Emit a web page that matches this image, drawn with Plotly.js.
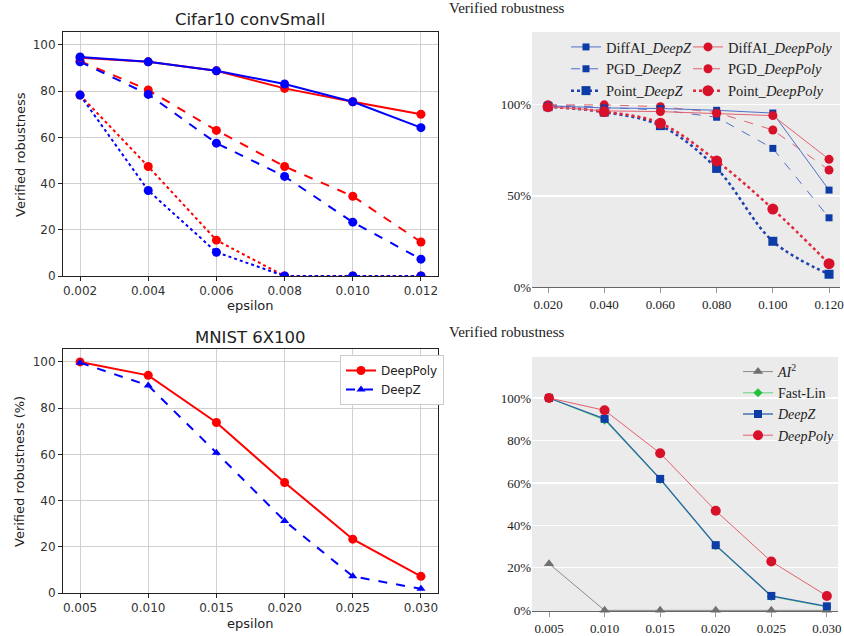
<!DOCTYPE html>
<html><head><meta charset="utf-8">
<script src="https://cdn.plot.ly/plotly-3.0.1.min.js"></script>
<style>html,body{margin:0;padding:0;background:#fff}#chart{width:844px;height:636px}</style>
</head><body><div id="chart"></div>
<script>
// ---- Top-left: Cifar10 convSmall ----
const cifarEps = [0.002, 0.004, 0.006, 0.008, 0.010, 0.012];
const cifarDiffAIPoly = [94.5, 92.7, 88.8, 81.2, 75.4, 70.0];
const cifarDiffAIZ    = [94.8, 92.7, 88.8, 83.1, 75.4, 64.2];
const cifarPGDPoly    = [93.0, 80.5, 63.0, 47.4, 34.5, 14.7];
const cifarPGDZ       = [92.7, 78.6, 57.5, 43.1, 23.3, 7.3];
const cifarPointPoly  = [78.3, 47.4, 15.5, 0, 0, 0];
const cifarPointZ     = [78.3, 37.0, 10.3, 0, 0, 0];

// ---- Top-right: DiffAI / PGD / Point ----
const trEps = [0.02, 0.04, 0.06, 0.08, 0.10, 0.12];
const trDiffAIZ    = [99.5, 98.3, 98.0, 97.0, 95.5, 53.2];
const trDiffAIPoly = [99.0, 96.7, 96.3, 95.4, 94.1, 70.1];
const trPGDZ       = [100, 98.7, 97.2, 93.2, 76.1, 38.0];
const trPGDPoly    = [100, 100, 99.0, 95.8, 86.2, 64.2];
const trPointZ     = [99.0, 96.0, 88.6, 65.1, 25.1, 7.0];
const trPointPoly  = [99.0, 96.3, 89.9, 69.2, 42.8, 12.8];
const trTicks = [0, 50, 100];
const trTickLabels = ['0%', '50%', '100%'];

// ---- Bottom-left: MNIST 6X100 ----
const mnistEps = [0.005, 0.010, 0.015, 0.020, 0.025, 0.030];
const mnistDeepPoly = [100, 94.2, 73.8, 47.8, 23.3, 7.2];
const mnistDeepZ    = [99.7, 89.8, 60.7, 31.2, 7.2, 1.8];

// ---- Bottom-right: AI2 / Fast-Lin / DeepZ / DeepPoly ----
const brEps = [0.005, 0.010, 0.015, 0.020, 0.025, 0.030];
const brAI2      = [22, 0, 0, 0, 0, 0];
const brFastLin  = [100, 89.6, 61.6, 30.4, 6.5, 1.6];
const brDeepZ    = [100, 90.2, 61.9, 30.7, 6.8, 1.9];
const brDeepPoly = [100, 94.2, 74.0, 46.9, 23.0, 6.8];
const brTicks = [0, 20, 40, 60, 80, 100];
const brTickLabels = ['0%', '20%', '40%', '60%', '80%', '100%'];

const W = 844, H = 636;
const px = v => v / W, py = v => 1 - v / H;

const MPL = 'DejaVu Sans, sans-serif';
const SERIF = 'Liberation Serif, DejaVu Serif, serif';
const RED = '#ff0000', BLUE = '#0000ff';
const DBLUE = '#0d3ca6', DRED = '#d8112a';

const traces = [];
function mpl(x, y, color, dash, sym, ax, name, leg) {
  traces.push({x: x, y: y, xaxis: 'x' + ax, yaxis: 'y' + ax, type: 'scatter', mode: 'lines+markers',
    name: name || 'series', showlegend: !!leg, legend: leg || 'legend3',
    line: {color: color, width: 2, dash: dash},
    marker: {color: color, size: sym === 'triangle-up' ? 8 : 9, symbol: sym}});
}
// top-left
mpl(cifarEps, cifarPointPoly, RED, 'dot', 'circle', '');
mpl(cifarEps, cifarPointZ, BLUE, 'dot', 'circle', '');
mpl(cifarEps, cifarPGDPoly, RED, 'dash', 'circle', '');
mpl(cifarEps, cifarPGDZ, BLUE, 'dash', 'circle', '');
mpl(cifarEps, cifarDiffAIPoly, RED, 'solid', 'circle', '');
mpl(cifarEps, cifarDiffAIZ, BLUE, 'solid', 'circle', '');
// bottom-left
mpl(mnistEps, mnistDeepPoly, RED, 'solid', 'circle', '3', 'DeepPoly', 'legend3');
mpl(mnistEps, mnistDeepZ, BLUE, 'dash', 'triangle-up', '3', 'DeepZ', 'legend3');

// top-right
function tr(y, name, lcolor, mcolor, dash, width, sym, size, leg, shape) {
  traces.push({x: trEps, y: y, xaxis: 'x2', yaxis: 'y2', type: 'scatter', mode: 'lines+markers',
    name: name, legend: leg, showlegend: true,
    line: {color: lcolor, width: width, dash: dash, shape: shape || 'linear'},
    marker: {color: mcolor, size: size, symbol: sym}});
}
tr(trPointZ, 'Point_<i>DeepZ</i>', '#1e43b0', DBLUE, 'dot', 2.5, 'square', 9, 'legend', 'spline');
tr(trPointPoly, 'Point_<i>DeepPoly</i>', '#e0283c', DRED, 'dot', 2.5, 'circle', 11, 'legend2', 'spline');
tr(trPGDZ, 'PGD_<i>DeepZ</i>', '#4f6fc8', DBLUE, 'dash', 1, 'square', 7, 'legend');
tr(trPGDPoly, 'PGD_<i>DeepPoly</i>', '#e4606e', DRED, 'dash', 1, 'circle', 9, 'legend2');
tr(trDiffAIZ, 'DiffAI_<i>DeepZ</i>', '#4f6fc8', DBLUE, 'solid', 1, 'square', 7, 'legend');
tr(trDiffAIPoly, 'DiffAI_<i>DeepPoly</i>', '#e4606e', DRED, 'solid', 1, 'circle', 9, 'legend2');

// bottom-right
function br(y, name, lcolor, mcolor, sym, size, lw) {
  traces.push({x: brEps, y: y, xaxis: 'x4', yaxis: 'y4', type: 'scatter', mode: 'lines+markers',
    name: name, legend: 'legend4', showlegend: true, cliponaxis: false,
    line: {color: lcolor, width: lw}, marker: {color: mcolor, size: size, symbol: sym}});
}
br(brAI2, '<i>AI</i><sup>2</sup>', '#8a8a8a', '#707070', 'triangle-up', 9, 1);
br(brFastLin, 'Fast-Lin', '#3ccf5a', '#22c040', 'diamond', 7, 0.8);
br(brDeepZ, '<i>DeepZ</i>', '#2a62a8', DBLUE, 'square', 8, 1.3);
br(brDeepPoly, '<i>DeepPoly</i>', '#e4606e', DRED, 'circle', 10, 1);

const mplX = (rng, dom) => ({domain: dom, range: rng, tickformat: '.3f',
  showline: true, mirror: true, linecolor: '#222', linewidth: 1, ticks: 'outside', ticklen: 4, tickcolor: '#222',
  showgrid: true, gridcolor: '#d0d0d0', gridwidth: 1, zeroline: false,
  tickfont: {family: MPL, size: 12, color: '#333'}});
const mplY = (dom) => ({domain: dom, range: [0, 105.6], tickvals: [0, 20, 40, 60, 80, 100],
  showline: true, mirror: true, linecolor: '#222', linewidth: 1, ticks: 'outside', ticklen: 4, tickcolor: '#222',
  showgrid: true, gridcolor: '#d0d0d0', gridwidth: 1, zeroline: false,
  tickfont: {family: MPL, size: 12, color: '#333'}});

const xTL = mplX([0.0015, 0.0125], [px(63), px(438)]); xTL.tickvals = cifarEps; xTL.anchor = 'y';
const yTL = mplY([py(276), py(32)]); yTL.anchor = 'x';
const xBL = mplX([0.00375, 0.03125], [px(63), px(438)]); xBL.tickvals = mnistEps; xBL.anchor = 'y3';
const yBL = mplY([py(593), py(349)]); yBL.anchor = 'x3';

const serX = (rng, dom, vals, anchor) => ({domain: dom, range: rng, tickvals: vals, tickformat: '.3f', anchor: anchor,
  showline: true, linecolor: '#666', linewidth: 1.2, ticks: 'outside', ticklen: 5, tickcolor: '#999',
  showgrid: false, zeroline: false, tickfont: {family: SERIF, size: 13, color: '#222'}});
const serY = (rng, dom, vals, labels, anchor) => ({domain: dom, range: rng, tickvals: vals, ticktext: labels, anchor: anchor,
  tickmode: 'array', showline: false, ticks: '', showgrid: true, gridcolor: '#ffffff', gridwidth: 1.2, zeroline: false,
  tickfont: {family: SERIF, size: 13, color: '#222'}});

const ann = [];
function A(text, x, y, size, fam, opts) {
  ann.push(Object.assign({text: text, x: px(x), y: py(y), xref: 'paper', yref: 'paper', showarrow: false,
    font: {family: fam, size: size, color: '#222'}, xanchor: 'center', yanchor: 'middle'}, opts || {}));
}
A('Cifar10 convSmall', 250, 20, 16.5, MPL);
A('MNIST 6X100', 250, 337, 16.5, MPL);
A('epsilon', 250, 305, 13, MPL);
A('epsilon', 250, 623, 13, MPL);
A('Verified robustness', 20, 155, 13, MPL, {textangle: -90});
A('Verified robustness (%)', 20, 472, 13, MPL, {textangle: -90});
A('Verified robustness', 447, 8, 15, SERIF, {xanchor: 'left'});
A('Verified robustness', 447, 332, 15, SERIF, {xanchor: 'left'});

const layout = {
  width: W, height: H, margin: {l: 0, r: 0, t: 0, b: 0},
  paper_bgcolor: '#ffffff', plot_bgcolor: 'rgba(0,0,0,0)',
  xaxis: xTL, yaxis: yTL,
  xaxis2: serX([0.0143, 0.1239], [px(532), px(840)], trEps, 'y2'),
  yaxis2: serY([0, 140], [py(287), py(32)], trTicks, trTickLabels, 'x2'),
  xaxis3: xBL, yaxis3: yBL,
  xaxis4: serX([0.00347, 0.031], [px(532), px(838)], brEps, 'y4'),
  yaxis4: serY([-0.3, 119.3], [py(611), py(357)], brTicks, brTickLabels, 'x4'),
  shapes: [
    {type: 'rect', xref: 'x2 domain', yref: 'y2 domain', x0: 0, x1: 1, y0: 0, y1: 1, fillcolor: '#ebebeb', line: {width: 0}, layer: 'below'},
    {type: 'rect', xref: 'x4 domain', yref: 'y4 domain', x0: 0, x1: 1, y0: 0, y1: 1, fillcolor: '#ebebeb', line: {width: 0}, layer: 'below'}
  ],
  annotations: ann,
  legend: {x: px(566), y: py(31), xanchor: 'left', yanchor: 'top', bgcolor: 'rgba(0,0,0,0)', borderwidth: 0,
    font: {family: SERIF, size: 14.5, color: '#222'}, itemwidth: 30, tracegroupgap: 0, traceorder: 'reversed'},
  legend2: {x: px(688), y: py(31), xanchor: 'left', yanchor: 'top', bgcolor: 'rgba(0,0,0,0)', borderwidth: 0,
    font: {family: SERIF, size: 14.5, color: '#222'}, itemwidth: 30, tracegroupgap: 0, traceorder: 'reversed'},
  legend3: {x: px(340), y: py(355), xanchor: 'left', yanchor: 'top', bgcolor: '#ffffff', bordercolor: '#cccccc', borderwidth: 1,
    font: {family: MPL, size: 12, color: '#222'}, itemwidth: 30, tracegroupgap: 0},
  legend4: {x: px(738), y: py(356), xanchor: 'left', yanchor: 'top', bgcolor: 'rgba(0,0,0,0)', borderwidth: 0,
    font: {family: SERIF, size: 14, color: '#222'}, itemwidth: 30, tracegroupgap: 0}
};

Plotly.newPlot('chart', traces, layout, {displayModeBar: false, staticPlot: true});
</script></body></html>
